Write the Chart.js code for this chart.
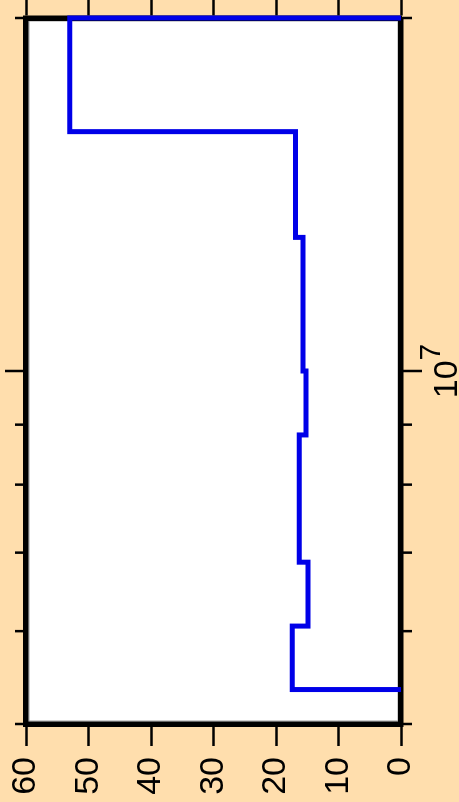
<!DOCTYPE html>
<html>
<head>
<meta charset="utf-8">
<script src="https://cdn.jsdelivr.net/npm/chart.js@4/dist/chart.umd.min.js"></script>
<style>
  html, body { margin: 0; padding: 0; background: #ffdead; overflow: hidden; }
  body { width: 459px; height: 802px; position: relative; }
  /* chart is drawn landscape and turned a quarter turn counter-clockwise */
  #wrap {
    position: absolute; left: 0; top: 0;
    width: 802px; height: 459px;
    transform-origin: 0 0;
    transform: translate(0px, 802px) rotate(-90deg);
  }
  canvas { display: block; }
</style>
</head>
<body>
<div id="wrap"><canvas id="histChart" width="802" height="459" style="width:802px;height:459px"></canvas></div>
<script>
// ============================================================
// Step histogram on a log x axis (rotated view)
// ============================================================

const binEdges    = [5.35e6, 6.06e6, 6.87e6, 8.82e6, 1.0e7, 1.30e7, 1.60e7, 2.0e7];
const binValues   = [17.4, 14.9, 16.3, 15.2, 15.7, 16.9, 53.0];
const xRange      = [5e6, 2e7];
const yRange      = [0, 60];
const yStep       = 10;
const xTickValues = [5e6, 6e6, 7e6, 8e6, 9e6, 1e7, 2e7];
const xMajorTicks = [1e7];

const FONT = "'Liberation Sans', Arial, Helvetica, sans-serif";
const BLACK = '#000000';

// outline of the histogram: corners built from the edges and values
function stepPoints(edges, values) {
  const pts = [{ x: edges[0], y: 0 }];
  values.forEach((v, i) => {
    pts.push({ x: edges[i], y: v });
    pts.push({ x: edges[i + 1], y: v });
  });
  pts.push({ x: edges[edges.length - 1], y: 0 });
  return pts;
}

// ── background: page colour + white plot ──────────────────
const backdrop = {
  id: 'backdrop',
  beforeDraw(chart) {
    const { ctx, chartArea: a, width, height } = chart;
    ctx.save();
    ctx.fillStyle = '#ffdead';
    ctx.fillRect(0, 0, width, height);
    ctx.fillStyle = '#ffffff';
    ctx.fillRect(a.left, a.top, a.right - a.left, a.bottom - a.top);
    ctx.strokeStyle = '#a0a0a0';
    ctx.lineWidth = 1;
    ctx.strokeRect(a.left + 3, a.top + 3, a.right - a.left - 6, a.bottom - a.top - 6);
    ctx.restore();
  },
};

// ── log axis ticks (major/minor lengths) and 10^n label ───
const logTicks = {
  id: 'logTicks',
  afterDraw(chart) {
    const { ctx, chartArea: a, scales: { x } } = chart;
    ctx.save();
    ctx.strokeStyle = BLACK;
    ctx.lineWidth = 2.5;
    xTickValues.forEach(v => {
      const px = x.getPixelForValue(v);
      const len = xMajorTicks.includes(v) ? 21 : 11;
      ctx.beginPath();
      ctx.moveTo(px, a.bottom); ctx.lineTo(px, a.bottom + len);
      ctx.moveTo(px, a.top);    ctx.lineTo(px, a.top - len);
      ctx.stroke();
    });

    ctx.fillStyle = BLACK;
    ctx.textBaseline = 'alphabetic';
    ctx.textAlign = 'left';
    xMajorTicks.forEach(v => {
      const px = x.getPixelForValue(v);
      const base = '10', exp = String(Math.round(Math.log10(v)));
      ctx.font = `34px ${FONT}`;
      const w1 = ctx.measureText(base).width;
      ctx.font = `30px ${FONT}`;
      const w2 = ctx.measureText(exp).width;
      const x0 = px - (w1 + w2) / 2;
      ctx.font = `34px ${FONT}`;
      ctx.fillText(base, x0, a.bottom + 56);
      ctx.font = `30px ${FONT}`;
      ctx.fillText(exp, x0 + w1, a.bottom + 39);
    });
    ctx.restore();
  },
};

const border = { display: true, color: BLACK, width: 5.5 };

// fixed box sizes so the plot sits where the reference has it
const fixWidth = w => s => { s.width = w; s.paddingTop = 0; s.paddingBottom = 0; };
const fixHeight = h => s => { s.height = h; s.paddingLeft = 0; s.paddingRight = 0; };

new Chart(document.getElementById('histChart'), {
  type: 'line',
  data: {
    datasets: [{
      data: stepPoints(binEdges, binValues),
      borderColor: '#0000e8',
      borderWidth: 5,
      borderJoinStyle: 'miter',
      borderCapStyle: 'butt',
      pointRadius: 0,
      fill: false,
      tension: 0,
      clip: 6,
    }],
  },
  options: {
    responsive: false,
    animation: false,
    devicePixelRatio: 1,
    layout: { padding: 0 },
    plugins: { legend: { display: false }, tooltip: { enabled: false } },
    scales: {
      x: {
        type: 'logarithmic', position: 'bottom',
        min: xRange[0], max: xRange[1],
        grid: { display: false },
        border,
        ticks: { display: false },
        afterBuildTicks: s => { s.ticks = xTickValues.map(v => ({ value: v })); },
        afterFit: fixHeight(58),
      },
      x2: {
        type: 'logarithmic', position: 'top',
        min: xRange[0], max: xRange[1],
        grid: { display: false },
        border,
        ticks: { display: false },
        afterFit: fixHeight(26),
      },
      y: {
        type: 'linear', position: 'left',
        min: yRange[0], max: yRange[1],
        grid: { drawOnChartArea: false, drawTicks: true, tickLength: 22, tickWidth: 2.5, tickColor: BLACK },
        border,
        ticks: { stepSize: yStep, color: BLACK, padding: 11, font: { family: FONT, size: 34 } },
        afterFit: fixWidth(78),
      },
      y2: {
        type: 'linear', position: 'right',
        min: yRange[0], max: yRange[1],
        grid: { drawOnChartArea: false, drawTicks: true, tickLength: 18, tickWidth: 2.5, tickColor: BLACK },
        border,
        ticks: { display: false, stepSize: yStep },
        afterFit: fixWidth(18),
      },
    },
  },
  plugins: [backdrop, logTicks],
});
</script>
</body>
</html>
